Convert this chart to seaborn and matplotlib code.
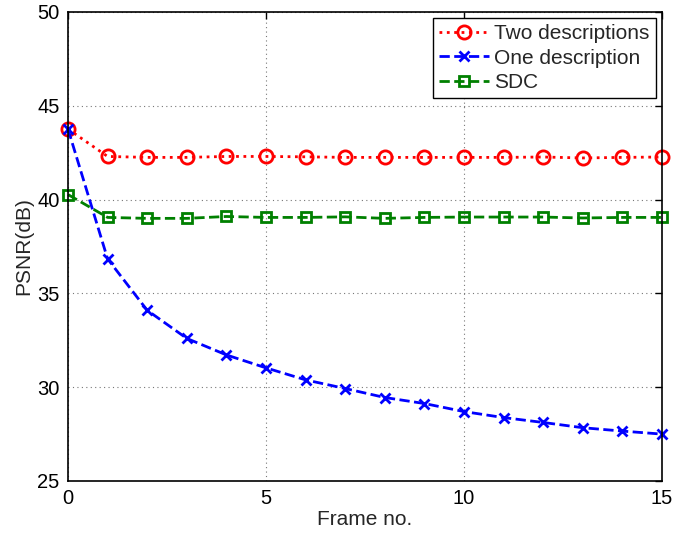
import numpy as np
import pandas as pd
import matplotlib
matplotlib.use("Agg")
import matplotlib.pyplot as plt
import seaborn as sns

frames = list(range(16))
two_desc = [43.76, 42.3, 42.25, 42.25, 42.3, 42.3, 42.28, 42.25, 42.25, 42.25, 42.25, 42.25, 42.27, 42.22, 42.25, 42.27]
one_desc = [43.76, 36.84, 34.1, 32.6, 31.72, 31.03, 30.39, 29.93, 29.45, 29.13, 28.7, 28.38, 28.12, 27.84, 27.66, 27.5]
sdc = [40.27, 39.05, 39.0, 39.0, 39.1, 39.05, 39.05, 39.08, 39.0, 39.05, 39.07, 39.07, 39.07, 39.02, 39.05, 39.05]
series_names = ["Two descriptions", "One description", "SDC"]
x_ticks = [0, 5, 10, 15]
y_ticks = [25, 30, 35, 40, 45, 50]

sns.set_style("white")
plt.rcParams['font.family'] = ['Liberation Sans', 'DejaVu Sans']

fig = plt.figure(figsize=(6.76, 5.36), dpi=100)
ax = fig.add_axes([68/676, 1-481/536, (662-68)/676, (481-12)/536])

styles = [
    dict(color="#ff0000", linestyle=":", marker="o", markersize=9.5, markerfacecolor="none",
         markeredgecolor="#ff0000", markeredgewidth=2),
    dict(color="#0000ff", linestyle="--", marker="x", markersize=7,
         markeredgecolor="#0000ff", markeredgewidth=2),
    dict(color="#008000", linestyle="--", marker="s", markersize=7, markerfacecolor="none",
         markeredgecolor="#008000", markeredgewidth=2),
]
for name, vals, st in zip(series_names, [two_desc, one_desc, sdc], styles):
    sns.lineplot(x=frames, y=vals, ax=ax, label=name, linewidth=2, clip_on=False, zorder=3, **st)

ax.set_xlim(0, 15)
ax.set_ylim(25, 50)
ax.set_xticks(x_ticks)
ax.set_yticks(y_ticks)
ax.tick_params(direction="in", top=True, right=True, length=5, width=1,
               labelsize=14.5, colors="black", pad=6)
ax.grid(True, linestyle=(0, (1, 3)), color="#777777", linewidth=0.8)
ax.set_axisbelow(True)
for s in ax.spines.values():
    s.set_color("black")
    s.set_linewidth(1.2)
    s.set_zorder(4)
ax.set_xlabel("Frame no.", fontsize=15, labelpad=1)
ax.set_ylabel("PSNR(dB)", fontsize=15, labelpad=3)

leg = ax.legend(loc="upper right", fontsize=15, frameon=True, fancybox=False,
                edgecolor="black", framealpha=1, borderpad=0.3, labelspacing=0.25,
                handlelength=2.4, handletextpad=0.25, borderaxespad=0.3)
leg.get_frame().set_linewidth(1.0)
leg.set_zorder(5)

fig.savefig("out.png", dpi=100)
